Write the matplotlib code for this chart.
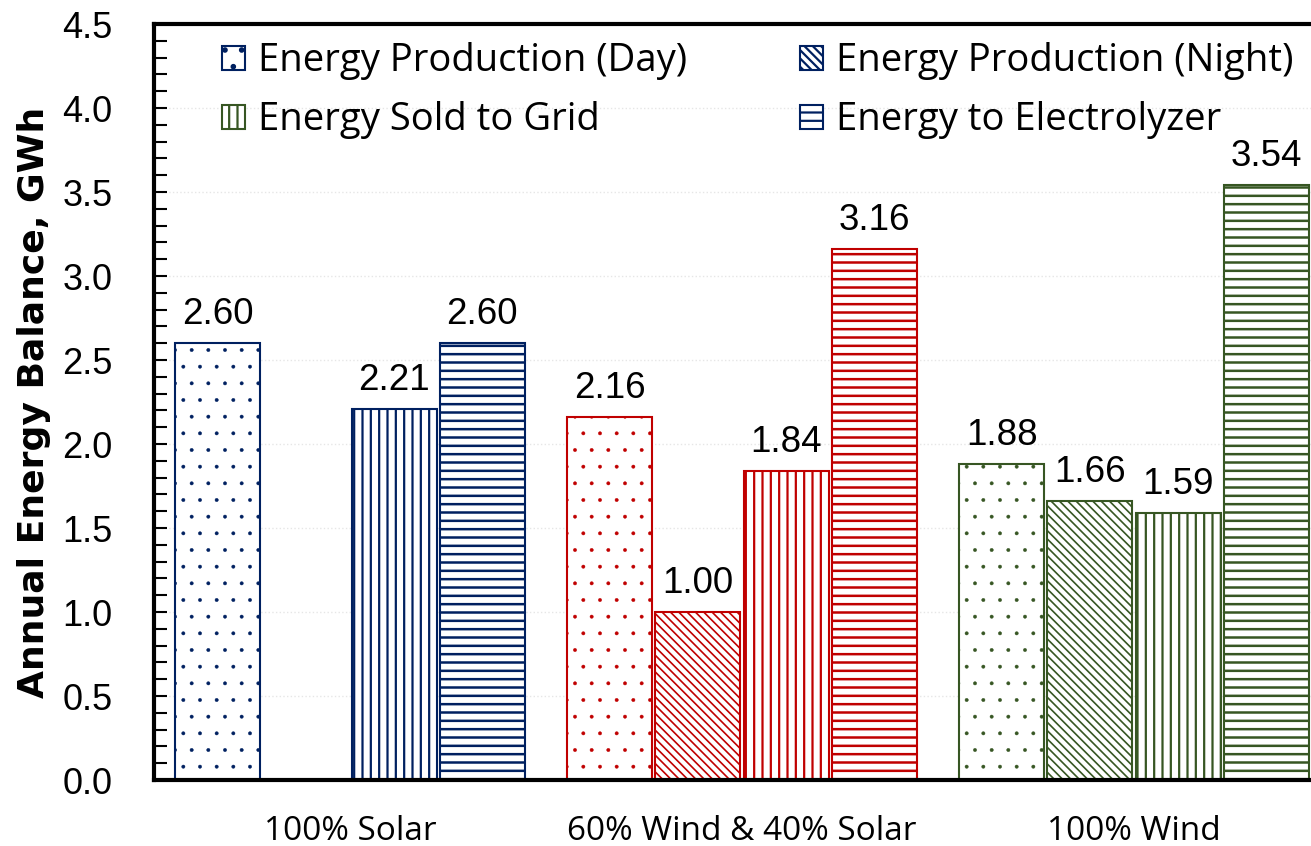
import numpy as np
import matplotlib.pyplot as plt
from matplotlib.patches import Patch
from matplotlib.ticker import MultipleLocator

# data
scenarios = ['100% Solar', '60% Wind & 40% Solar', '100% Wind']
series = ['Energy Production (Day)', 'Energy Production (Night)',
          'Energy Sold to Grid', 'Energy to Electrolyzer']
prod_day = [2.60, 2.16, 1.88]
prod_night = [np.nan, 1.00, 1.66]
sold_grid = [2.21, 1.84, 1.59]
to_electrolyzer = [2.60, 3.16, 3.54]

values = [prod_day, prod_night, sold_grid, to_electrolyzer]
hatches = ['.', '\\\\\\\\', '||', '--']
hatch_lw = [0.3, 1.2, 1.6, 1.8]
group_colors = ['#002060', '#C00000', '#375623']

plt.rcParams['hatch.linewidth'] = 1.6


def set_hlw(patch, lw):
    # per-artist hatch width when the installed matplotlib supports it
    if hasattr(patch, 'set_hatch_linewidth'):
        patch.set_hatch_linewidth(lw)


fig = plt.figure(figsize=(13.11, 8.46), dpi=100)
ax = fig.add_axes([0.1175, 0.078, 0.897, 0.8936])

x = np.arange(len(scenarios))
slot = 0.225
bw = 0.217
for i, vals in enumerate(values):
    off = (i - 1.5) * slot
    for j, v in enumerate(vals):
        if np.isnan(v):
            continue
        bars = ax.bar(x[j] + off, v, width=bw, facecolor='white',
                      edgecolor=group_colors[j], hatch=hatches[i], linewidth=1.5)
        for b in bars:
            set_hlw(b, hatch_lw[i])
        ax.annotate(f'{v:.2f}', (x[j] + off, v), xytext=(0, 8),
                    textcoords='offset points', ha='center', va='bottom',
                    fontsize=26.5, family='Liberation Sans')

ax.set_xlim(-0.5, 2.5)
ax.set_ylim(0, 4.5)
ax.yaxis.set_major_locator(MultipleLocator(0.5))
ax.yaxis.set_minor_locator(MultipleLocator(0.1))
ax.yaxis.set_major_formatter(plt.FormatStrFormatter('%.1f'))
ax.grid(axis='y', color='#e6e6e6', linestyle=':', linewidth=1)
ax.set_axisbelow(True)

ax.set_xticks(x)
ax.set_xticklabels(scenarios, fontsize=24, family='Open Sans')
ax.tick_params(axis='x', length=0, pad=25)
ax.tick_params(axis='y', which='both', direction='in', length=9, width=1.5,
               labelsize=26, pad=30)
for lab in ax.get_yticklabels():
    lab.set_family('Liberation Sans')

for s in ['left', 'bottom', 'top']:
    ax.spines[s].set_linewidth(3)
ax.spines['right'].set_visible(False)

ax.set_ylabel('Annual Energy Balance, GWh', fontsize=26, fontweight='bold',
              family=['Liberation Sans Narrow', 'DejaVu Sans'])
ax.yaxis.set_label_coords(-0.088, 0.5)

legend_colors = ['#002060', '#002060', '#375623', '#002060']
handles = []
for i in range(4):
    h = Patch(facecolor='white', edgecolor=legend_colors[i], hatch=hatches[i],
              linewidth=1.5, label=series[i])
    set_hlw(h, hatch_lw[i])
    handles.append(h)
order = [0, 2, 1, 3]
ax.legend([handles[k] for k in order], [series[k] for k in order], ncol=2,
          loc='upper left', bbox_to_anchor=(0.1693, 0.950),
          bbox_transform=fig.transFigure, borderaxespad=0, borderpad=0,
          frameon=False, prop={'family': 'Open Sans', 'size': 27.5},
          handlelength=0.6, handleheight=0.6, handletextpad=0.35,
          columnspacing=2.95, labelspacing=0.55)

fig.savefig('out.png', dpi=100)
